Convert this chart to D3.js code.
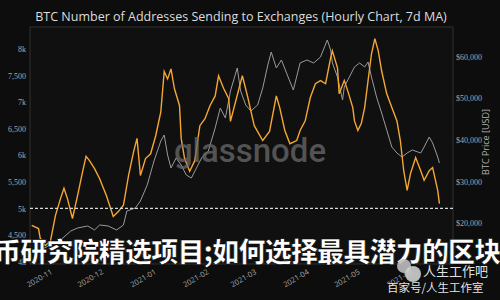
<!DOCTYPE html>
<html lang="en">
<head>
<meta charset="utf-8">
<title>BTC Addresses Sending to Exchanges</title>
<script src="https://d3js.org/d3.v7.min.js"></script>
<style>
    body{
        margin: 0;
        background-color: #0d0d0d;
    }
    svg{
        display: block;
    }
</style>
</head>
<body>
<div id="chart"></div>
<script>

// addresses sending to exchanges (7d MA), left axis
var addrDates = ["2020-10-26","2020-10-30","2020-10-31","2020-11-03","2020-11-06","2020-11-09","2020-11-12","2020-11-14","2020-11-16","2020-11-19",
    "2020-11-22","2020-11-25","2020-11-27","2020-11-29","2020-12-02","2020-12-05","2020-12-09","2020-12-13","2020-12-16","2020-12-19",
    "2020-12-22","2020-12-25","2020-12-27","2020-12-29","2021-01-01","2021-01-04","2021-01-07","2021-01-10","2021-01-12","2021-01-14",
    "2021-01-16","2021-01-18","2021-01-21","2021-01-22","2021-01-24","2021-01-27","2021-01-30","2021-02-02","2021-02-05","2021-02-08",
    "2021-02-11","2021-02-13","2021-02-16","2021-02-19","2021-02-20","2021-02-23","2021-02-27","2021-03-02","2021-03-06","2021-03-11",
    "2021-03-15","2021-03-19","2021-03-21","2021-03-24","2021-03-27","2021-03-31","2021-04-02","2021-04-05","2021-04-08","2021-04-11",
    "2021-04-14","2021-04-17","2021-04-20","2021-04-21","2021-04-24","2021-04-25","2021-04-28","2021-04-30","2021-05-03","2021-05-04",
    "2021-05-06","2021-05-08","2021-05-10","2021-05-12","2021-05-14","2021-05-16","2021-05-18","2021-05-20","2021-05-23","2021-05-26",
    "2021-05-29","2021-05-31","2021-06-02","2021-06-04","2021-06-06","2021-06-09","2021-06-12","2021-06-14","2021-06-17","2021-06-19",
    "2021-06-22","2021-06-23"];
var addrValues = [4680,4620,4440,4300,4380,4870,5190,5380,5190,4810,
    5240,5700,5980,5900,5750,5560,5240,4850,4940,5060,
    5620,6070,6320,5620,5940,6030,6370,6820,7580,7440,
    7630,7260,6940,6320,5940,5700,5900,6560,6690,6940,
    7120,7500,7260,7070,6640,7010,7500,7120,6560,6280,
    6450,7120,6900,6470,6220,6280,6470,6650,7090,7350,
    7410,7350,7840,7970,7650,7160,7410,7220,6900,6650,
    6470,6600,6900,7410,7910,8200,7970,7590,7160,6900,
    6650,6280,5710,5340,5660,5960,5710,5530,5710,5770,
    5340,5090];

// BTC price, right axis
var priceDates = ["2020-10-25","2020-10-31","2020-11-06","2020-11-12","2020-11-18","2020-11-22","2020-11-28","2020-12-02","2020-12-05","2020-12-10",
    "2020-12-15","2020-12-19","2020-12-21","2020-12-26","2020-12-29","2021-01-02","2021-01-06","2021-01-10","2021-01-12","2021-01-14",
    "2021-01-16","2021-01-19","2021-01-22","2021-01-25","2021-01-28","2021-01-31","2021-02-03","2021-02-07","2021-02-11","2021-02-14",
    "2021-02-17","2021-02-20","2021-02-24","2021-02-26","2021-03-01","2021-03-04","2021-03-08","2021-03-11","2021-03-14","2021-03-16",
    "2021-03-19","2021-03-22","2021-03-25","2021-03-29","2021-04-02","2021-04-06","2021-04-10","2021-04-14","2021-04-18","2021-04-20",
    "2021-04-21","2021-04-24","2021-04-27","2021-04-28","2021-05-01","2021-05-04","2021-05-07","2021-05-10","2021-05-12","2021-05-14",
    "2021-05-17","2021-05-20","2021-05-23","2021-05-26","2021-05-29","2021-06-01","2021-06-04","2021-06-07","2021-06-12","2021-06-14",
    "2021-06-17","2021-06-19","2021-06-22","2021-06-23"];
var priceValues = [13100,13620,14820,16020,18180,18900,19380,18420,19620,19380,
    18420,19620,22970,23690,25370,29210,34960,39760,41200,36400,
    33290,35680,34000,31610,30890,33290,35680,37360,42880,47670,
    45280,51750,57270,51750,48390,46950,48390,52470,57990,61100,
    57270,59190,56070,51990,58470,59190,58470,59900,63980,61580,
    58470,55110,49590,52710,55110,57510,58470,57510,58700,55110,
    50310,46470,42400,38320,36880,35920,36880,37600,36880,38320,
    40720,39280,35920,34480];

var leftTicks = [4000,4500,5000,5500,6000,6500,7000,7500,8000];
var leftLabels = ["4k","4,500","5k","5,500","6k","6,500","7k","7,500","8k"];
var rightTicks = [20000,30000,40000,50000,60000];
var monthTicks = ["2020-11","2020-12","2021-01","2021-02","2021-03","2021-04","2021-05","2021-06"];

var width = 500, height = 300;
var plotLeft = 30, plotRight = 453, plotTop = 27, plotBottom = 264;
var parse = d3.timeParse("%Y-%m-%d");
var parseMonth = d3.timeParse("%Y-%m");

var svg = d3.select("#chart").append("svg")
    .attr("width", width)
    .attr("height", height)
    .style("background", "#0d0d0d");

var x = d3.scaleTime()
    .domain([parse("2020-10-25"), parse("2021-07-01")])
    .range([plotLeft, plotRight]);
var yLeft = d3.scaleLinear()
    .domain([3953, 8419])
    .range([plotBottom, plotTop]);
var yRight = d3.scaleLinear()
    .domain([10264, 67097])
    .range([plotBottom, plotTop]);

// plot frame
svg.append("rect")
    .attr("x", plotLeft).attr("y", plotTop)
    .attr("width", plotRight - plotLeft).attr("height", plotBottom - plotTop)
    .attr("fill", "#101010")
    .attr("stroke", "#3a3a3a")
    .attr("stroke-width", 0.8);

// title
svg.append("text")
    .attr("x", 241).attr("y", 21)
    .attr("text-anchor", "middle")
    .style("font-family", "'Open Sans', 'DejaVu Sans', sans-serif")
    .style("font-size", "12.5px")
    .attr("fill", "#dcdcdc")
    .text("BTC Number of Addresses Sending to Exchanges (Hourly Chart, 7d MA)");

// left axis
var leftAxis = d3.axisLeft(yLeft)
    .tickValues(leftTicks)
    .tickFormat(function(d, i){ return leftLabels[i]; })
    .tickSize(0).tickPadding(4);
svg.append("g")
    .attr("transform", "translate(" + plotLeft + ",0)")
    .call(leftAxis)
    .call(function(g){ g.select(".domain").remove(); })
    .selectAll("text")
    .attr("fill", "#a8a8a8")
    .style("font-family", "'Liberation Serif', serif")
    .style("font-size", "8px");

// right axis
var rightAxis = d3.axisRight(yRight)
    .tickValues(rightTicks)
    .tickFormat(function(d){ return "$" + d3.format(",")(d); })
    .tickSize(0).tickPadding(3);
svg.append("g")
    .attr("transform", "translate(" + plotRight + ",0)")
    .call(rightAxis)
    .call(function(g){ g.select(".domain").remove(); })
    .selectAll("text")
    .attr("fill", "#a8a8a8")
    .style("font-family", "'Liberation Serif', serif")
    .style("font-size", "8px");

svg.append("text")
    .attr("transform", "translate(489,142) rotate(-90)")
    .attr("text-anchor", "middle")
    .style("font-family", "'Open Sans', sans-serif")
    .style("font-size", "9px")
    .attr("fill", "#b0b0b0")
    .text("BTC Price [USD]");

// bottom axis
var bottomAxis = d3.axisBottom(x)
    .tickValues(monthTicks.map(function(m){ return parseMonth(m); }))
    .tickFormat(d3.timeFormat("%Y-%m"))
    .tickSize(0).tickPadding(6);
svg.append("g")
    .attr("transform", "translate(0," + plotBottom + ")")
    .call(bottomAxis)
    .call(function(g){ g.select(".domain").remove(); })
    .selectAll("text")
    .attr("fill", "#a8a8a8")
    .style("font-family", "'Open Sans', sans-serif")
    .style("font-size", "7.5px")
    .attr("text-anchor", "end")
    .attr("dx", "0.6em")
    .attr("dy", "1em")
    .attr("transform", "rotate(-30)");

// series
var priceData = priceDates.map(function(d, i){ return {date: parse(d), value: priceValues[i]}; });
var addrData = addrDates.map(function(d, i){ return {date: parse(d), value: addrValues[i]}; });

svg.append("path")
    .datum(priceData)
    .attr("fill", "none")
    .attr("stroke", "#9a9a9a")
    .attr("stroke-width", 1)
    .attr("d", d3.line().x(function(d){ return x(d.date); }).y(function(d){ return yRight(d.value); }));

svg.append("path")
    .datum(addrData)
    .attr("fill", "none")
    .attr("stroke", "#f5a733")
    .attr("stroke-width", 1.4)
    .attr("d", d3.line().x(function(d){ return x(d.date); }).y(function(d){ return yLeft(d.value); }));

// 5k reference line
svg.append("line")
    .attr("x1", plotLeft).attr("x2", plotRight)
    .attr("y1", yLeft(5000)).attr("y2", yLeft(5000))
    .attr("stroke", "#d8d8d8")
    .attr("stroke-width", 1.2)
    .attr("stroke-dasharray", "3,2");

// watermark
svg.append("text")
    .attr("x", 250).attr("y", 162)
    .attr("text-anchor", "middle")
    .style("font-family", "Roboto, sans-serif")
    .style("font-size", "33px")
    .style("font-weight", 500)
    .attr("fill", "#6a6a6a")
    .attr("fill-opacity", 0.75)
    .text("glassnode");

// overlay banner text
svg.append("text")
    .attr("x", -6).attr("y", 262)
    .style("font-family", "'Noto Sans CJK SC', sans-serif")
    .style("font-size", "27px")
    .style("font-weight", 900)
    .style("letter-spacing", "-0.8px")
    .attr("fill", "#ffffff")
    .attr("stroke", "#000")
    .attr("stroke-width", 0.6)
    .text("币研究院精选项目;如何选择最具潜力的区块");

// bottom-right mark
var mark = svg.append("g").attr("fill", "#d0d0d0").attr("fill-opacity", 0.9);
mark.append("circle").attr("cx", 404).attr("cy", 266).attr("r", 7).attr("fill", "#bdbdbd");
mark.append("circle").attr("cx", 413).attr("cy", 274).attr("r", 8).attr("fill", "#cfcfcf");
mark.append("text")
    .attr("x", 423).attr("y", 276)
    .style("font-family", "'Noto Sans CJK SC', sans-serif")
    .style("font-size", "13px")
    .attr("fill", "#ffffff")
    .text("人生工作吧");
mark.append("text")
    .attr("x", 387).attr("y", 292)
    .style("font-family", "'Noto Sans CJK SC', sans-serif")
    .style("font-size", "11.5px")
    .attr("fill", "#ffffff")
    .text("百家号/人生工作室");

</script>
</body>
</html>
